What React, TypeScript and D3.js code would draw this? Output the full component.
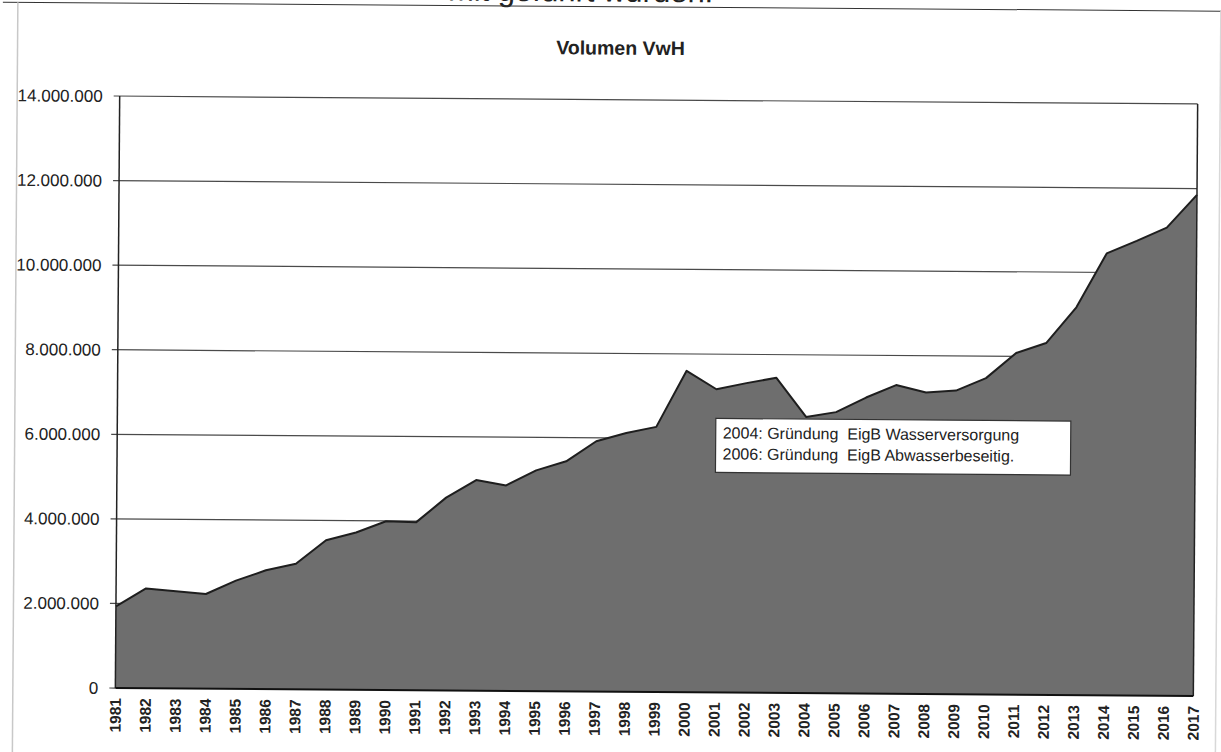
import React from "react";
import * as d3 from "d3";

const title = "Volumen VwH";
const years = [
  "1981","1982","1983","1984","1985","1986","1987","1988","1989","1990",
  "1991","1992","1993","1994","1995","1996","1997","1998","1999","2000",
  "2001","2002","2003","2004","2005","2006","2007","2008","2009","2010",
  "2011","2012","2013","2014","2015","2016","2017",
];
const volumes = [
  1930000, 2360000, 2300000, 2240000, 2560000, 2810000, 2970000, 3530000, 3720000, 3990000,
  3970000, 4560000, 4980000, 4860000, 5220000, 5440000, 5920000, 6120000, 6270000, 7600000,
  7170000, 7320000, 7450000, 6530000, 6650000, 7000000, 7300000, 7130000, 7180000, 7480000,
  8080000, 8320000, 9170000, 10450000, 10750000, 11070000, 11850000,
];
const yTicks = [0, 2000000, 4000000, 6000000, 8000000, 10000000, 12000000, 14000000];
const noteLines = [
  "2004: Gründung  EigB Wasserversorgung",
  "2006: Gründung  EigB Abwasserbeseitig.",
];
const headerFragment = "mit geführt wurden.";

const W = 1221;
const H = 752;
const M = { left: 117.5, right: 1195.5, top: 100, bottom: 692 };
const FONT = "Arial, 'Liberation Sans', Helvetica, sans-serif";

const fmt = (v: number) => {
  if (v === 0) return "0";
  return d3.format(",")(v).replace(/,/g, ".");
};

export default function App() {
  const x = d3.scalePoint<string>().domain(years).range([M.left, M.right]);
  const y = d3.scaleLinear().domain([0, 14000000]).range([M.bottom, M.top]);
  const data = years.map((yr, i) => ({ yr, v: volumes[i] }));

  const area = d3
    .area<{ yr: string; v: number }>()
    .x((d) => x(d.yr) as number)
    .y0(y(0))
    .y1((d) => y(d.v));
  const line = d3
    .line<{ yr: string; v: number }>()
    .x((d) => x(d.yr) as number)
    .y((d) => y(d.v));

  const cx = (M.left + M.right) / 2;
  const cy = (M.top + M.bottom) / 2;

  return (
    <svg
      width={W}
      height={H}
      style={{ position: "absolute", left: 0, top: 0, background: "#fff" }}
      fontFamily={FONT}
    >
      <rect x={0} y={0} width={W} height={H} fill="#fff" />
      <g transform={`rotate(0.42 ${cx} ${cy})`}>
        {/* page fragments (cut off at the top edge, as in the scan) */}
        <text x={445} y={2} fontSize={31} fill="#222">
          {headerFragment}
        </text>
        <line x1={0} x2={W} y1={7} y2={7} stroke="#333" strokeWidth={1} />
        <line x1={15} x2={15} y1={7} y2={H + 10} stroke="#c8c8c8" strokeWidth={1.5} />
        <line x1={1218} x2={1218} y1={7} y2={H + 10} stroke="#d8d8d8" strokeWidth={1.5} />

        {/* title */}
        <text
          x={618}
          y={55}
          textAnchor="middle"
          fontSize={19.5}
          fontWeight="bold"
          fill="#222"
        >
          {title}
        </text>

        {/* gridlines and y labels */}
        {yTicks.map((t) => (
          <g key={t}>
            <line
              x1={M.left - 6}
              x2={t === 0 ? M.left : M.right}
              y1={y(t)}
              y2={y(t)}
              stroke="#4a4a4a"
              strokeWidth={1.2}
            />
            <text
              x={M.left - 17}
              y={y(t)}
              dy="0.35em"
              textAnchor="end"
              fontSize={17}
              fill="#222"
            >
              {fmt(t)}
            </text>
          </g>
        ))}

        {/* area */}
        <path d={area(data) || ""} fill="#6e6e6e" />
        <path d={line(data) || ""} fill="none" stroke="#1e1e1e" strokeWidth={2} strokeLinejoin="round" />

        {/* frame */}
        <line x1={M.left} x2={M.left} y1={M.top} y2={M.bottom} stroke="#222" strokeWidth={1.5} />
        <line x1={M.right} x2={M.right} y1={M.top} y2={M.bottom} stroke="#222" strokeWidth={1.5} />
        <line x1={M.left} x2={M.right} y1={M.bottom} y2={M.bottom} stroke="#111" strokeWidth={2} />

        {/* x labels */}
        {years.map((yr) => (
          <text
            key={yr}
            transform={`translate(${x(yr)},${M.bottom + 10}) rotate(-90)`}
            dy="0.36em"
            textAnchor="end"
            fontSize={15.5}
            fontWeight="bold"
            fill="#222"
          >
            {yr}
          </text>
        ))}

        {/* annotation */}
        <rect x={716} y={418} width={355} height={54} fill="#fff" stroke="#333" strokeWidth={1.2} />
        {noteLines.map((t, i) => (
          <text
            key={i}
            x={723}
            y={438 + i * 21}
            fontSize={16}
            fill="#222"
            style={{ whiteSpace: "pre" }}
          >
            {t}
          </text>
        ))}
      </g>
    </svg>
  );
}
